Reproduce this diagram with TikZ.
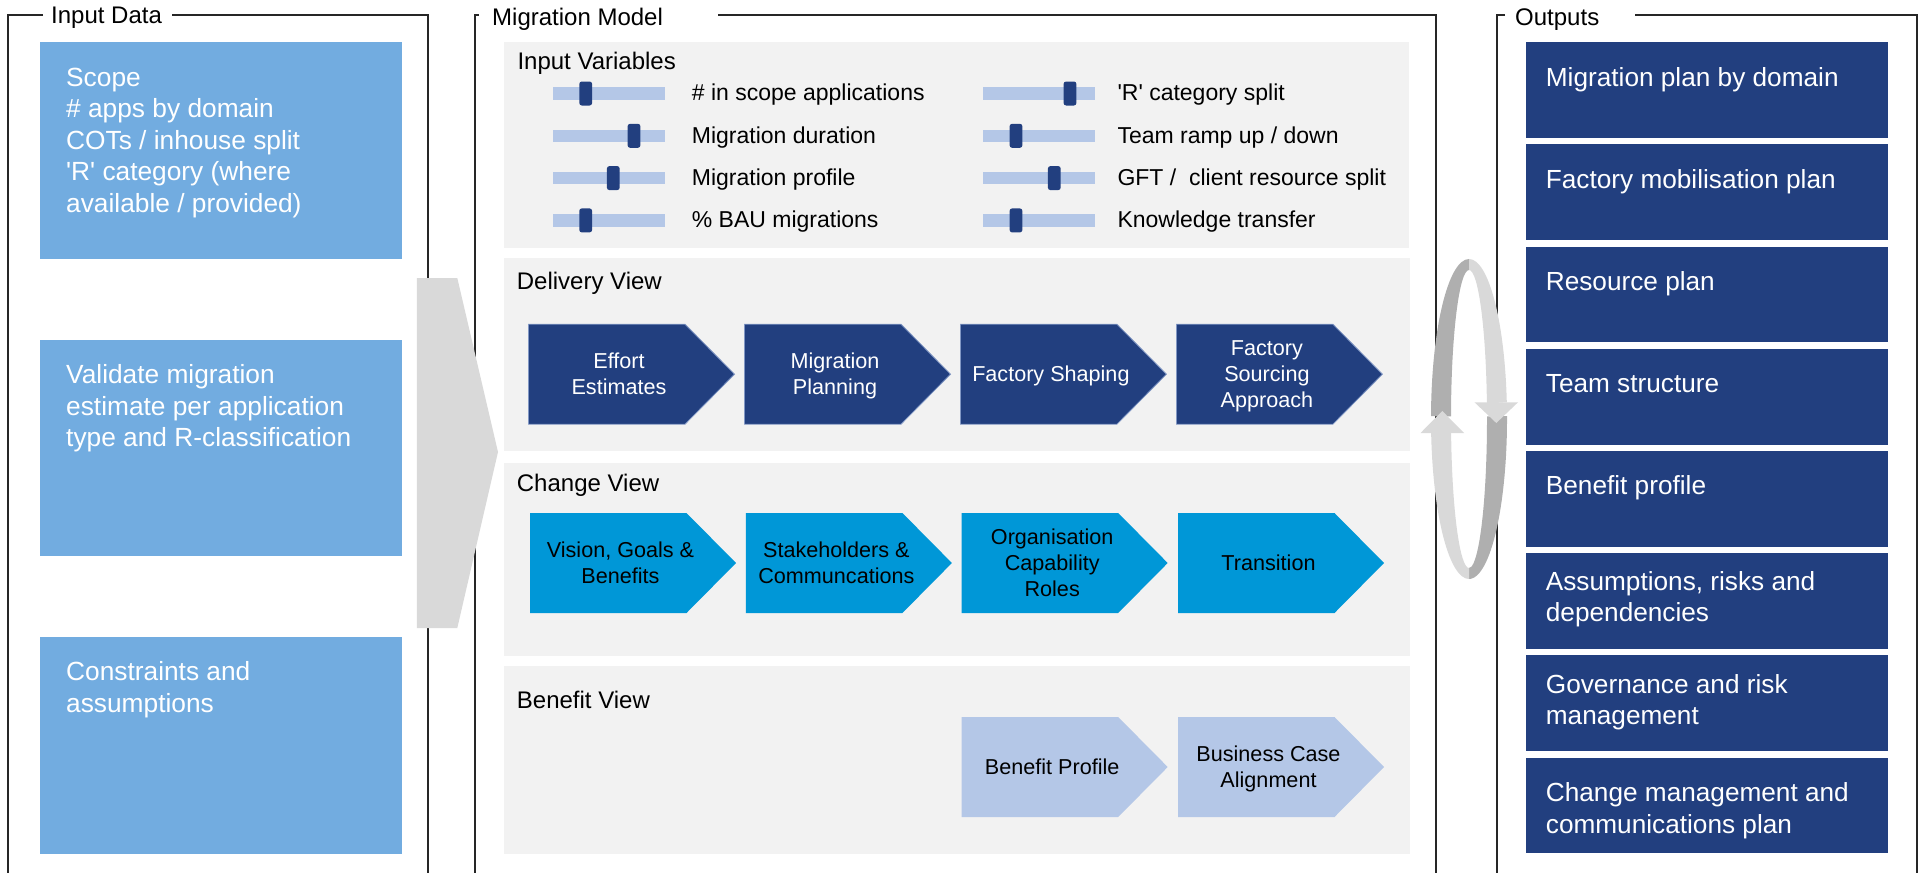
\documentclass[tikz,border=0pt]{standalone}
\usepackage{fontspec}
\setmainfont{Liberation Sans}

\definecolor{inblue}{HTML}{72ACE0}
\definecolor{navy}{HTML}{223F7F}
\definecolor{navyedge}{HTML}{8197C4}
\definecolor{cyanbox}{HTML}{0097D7}
\definecolor{paleblue}{HTML}{B4C7E7}
\definecolor{panelgray}{HTML}{F2F2F2}
\definecolor{arrowgray}{HTML}{D9D9D9}
\definecolor{ringdark}{HTML}{AFAFAF}
\definecolor{framecol}{HTML}{262626}

% chevron outline: left x, top y, fill/draw options
\newcommand\chevshape[3]{%
  \path[#3] (#1,#2) -- ++(156.5,0) -- ++(49.5,50) -- ++(-49.5,50) -- ++(-156.5,0) -- cycle;}

% slider: track left x, row centre y, knob centre x
\newcommand\slidebar[3]{%
  \fill[paleblue] (#1,{#2-6.3}) rectangle ++(111.7,12.6);
  \fill[navy, rounded corners=2.5pt] ({#3-6.4},{#2-12}) rectangle ++(12.8,24);}

\begin{document}
\begin{tikzpicture}[x=1pt,y=-1pt,
  frame/.style={draw=framecol, line width=1.8pt},
  lbl/.style={anchor=base west, inner sep=0, font=\fontsize{24}{28}\selectfont},
  bodytext/.style={anchor=base west, inner sep=0, text=white, font=\fontsize{26.3}{31.6}\selectfont},
  chevtext/.style={anchor=base, inner sep=0, font=\fontsize{21.6}{26}\selectfont},
  sltext/.style={anchor=base west, inner sep=0, font=\fontsize{23}{27}\selectfont},
  inbox/.style={fill=inblue, anchor=north west, inner sep=0, minimum width=361.5pt},
  outbox/.style={fill=navy, anchor=north west, inner sep=0, minimum width=362pt, minimum height=95.8pt},
  panel/.style={fill=panelgray, anchor=north west, inner sep=0, minimum width=905.5pt},
  navychev/.style={fill=navy, draw=navyedge, line width=0.8pt},
  cyanchev/.style={fill=cyanbox},
  palechev/.style={fill=paleblue},
]
\useasboundingbox (0,0) rectangle (1923,873);

% ---------- section frames ----------
\draw[frame] (43,14.7) -- (8,14.7) -- (8,873);
\draw[frame] (172,14.7) -- (428,14.7) -- (428,873);
\node[lbl] (lblin) at (51,23.2) {Input Data};

\draw[frame] (479,14.7) -- (474.6,14.7) -- (474.6,873);
\draw[frame] (718,14.7) -- (1436,14.7) -- (1436,873);
\node[lbl] (lblmodel) at (492,25.5) {Migration Model};

\draw[frame] (1505,14.7) -- (1497.3,14.7) -- (1497.3,873);
\draw[frame] (1635,14.7) -- (1917,14.7) -- (1917,873);
\node[lbl] (lblout) at (1515,25) {Outputs};

% ---------- input data ----------
\node[inbox, minimum height=217pt] (in1) at (40,42) {};
\node[inbox, minimum height=216pt] (in2) at (40,339.7) {};
\node[inbox, minimum height=217pt] (in3) at (40,637) {};
\node[bodytext] (in1t) at (66,86) {\parbox[t]{330pt}{\raggedright Scope\\\# apps by domain\\COTs / inhouse split\\\textquotesingle R\textquotesingle\ category (where\\available / provided)}};
\node[bodytext] (in2t) at (66,383.7) {\parbox[t]{330pt}{\raggedright Validate migration\\estimate per application\\type and R-classification}};
\node[bodytext] (in3t) at (66,680.5) {\parbox[t]{330pt}{\raggedright Constraints and\\assumptions}};

% large grey flow arrow into the model
\fill[arrowgray] (416.8,278) -- (457.3,278) -- (498,452) -- (457.3,628) -- (416.8,628) -- cycle;

% ---------- migration model panels ----------
\node[panel, minimum height=205.6pt] (pvars) at (503.5,41.7) {};
\node[panel, minimum height=193pt] (pdel) at (504,258) {};
\node[panel, minimum height=193.4pt] (pchg) at (504,462.3) {};
\node[panel, minimum height=187.7pt] (pben) at (504,666) {};

\node[lbl] (tvars) at (517.3,69) {Input Variables};
\node[lbl] (tdel) at (516.7,289.3) {Delivery View};
\node[lbl] (tchg) at (516.7,491.7) {Change View};
\node[lbl] (tben) at (516.7,708.3) {Benefit View};

% input variable sliders
\slidebar{553}{93.5}{585.7}
\slidebar{553}{135.8}{634}
\slidebar{553}{178.1}{613.3}
\slidebar{553}{220.4}{585.7}
\slidebar{983}{93.5}{1070}
\slidebar{983}{135.8}{1016}
\slidebar{983}{178.1}{1054.3}
\slidebar{983}{220.4}{1016}
\node[sltext] (v1) at (691.7,100.8) {\# in scope applications};
\node[sltext] (v2) at (691.7,143.1) {Migration duration};
\node[sltext] (v3) at (691.7,185.4) {Migration profile};
\node[sltext] (v4) at (691.7,227.7) {\% BAU migrations};
\node[sltext] (v5) at (1117.3,100.8) {\textquotesingle R\textquotesingle\ category split};
\node[sltext] (v6) at (1117.3,143.1) {Team ramp up / down};
\node[sltext] (v7) at (1117.3,185.4) {GFT /\ \ client resource split};
\node[sltext] (v8) at (1117.3,227.7) {Knowledge transfer};

% delivery view
\chevshape{528.5}{324.2}{navychev}
\chevshape{744.5}{324.2}{navychev}
\chevshape{960.4}{324.2}{navychev}
\chevshape{1176.4}{324.2}{navychev}
\node[chevtext, text=white] (d1) at (619,368.9) {\parbox[t]{170pt}{\centering Effort\\Estimates}};
\node[chevtext, text=white] (d2) at (835,368.9) {\parbox[t]{170pt}{\centering Migration\\Planning}};
\node[chevtext, text=white] (d3) at (1050.9,381.9) {\parbox[t]{170pt}{\centering Factory Shaping}};
\node[chevtext, text=white] (d4) at (1266.9,355.9) {\parbox[t]{170pt}{\centering Factory\\Sourcing\\Approach}};

% change view
\chevshape{530}{513}{cyanchev}
\chevshape{745.9}{513}{cyanchev}
\chevshape{961.7}{513}{cyanchev}
\chevshape{1178}{513}{cyanchev}
\node[chevtext] (c1) at (620.5,557.4) {\parbox[t]{170pt}{\centering Vision, Goals \&\\Benefits}};
\node[chevtext] (c2) at (836.4,557.4) {\parbox[t]{170pt}{\centering Stakeholders \&\\Communcations}};
\node[chevtext] (c3) at (1052.2,544.6) {\parbox[t]{170pt}{\centering Organisation\\Capability\\Roles}};
\node[chevtext] (c4) at (1268.5,570.6) {\parbox[t]{170pt}{\centering Transition}};

% benefit view
\chevshape{961.7}{717}{palechev}
\chevshape{1178}{717}{palechev}
\node[chevtext] (b1) at (1052.2,774.7) {\parbox[t]{170pt}{\centering Benefit Profile}};
\node[chevtext] (b2) at (1268.5,761.7) {\parbox[t]{170pt}{\centering Business Case\\Alignment}};

% ---------- iteration loop between model and outputs ----------
\fill[ringdark] (1431.0,416.2) arc[start angle=181, end angle=270, x radius=38, y radius=160]
  -- (1469,270) arc[start angle=270, end angle=181, x radius=18, y radius=149] -- cycle;
\fill[ringdark] (1507.0,416.2) arc[start angle=-1, end angle=90, x radius=38, y radius=160]
  -- (1469,568) arc[start angle=90, end angle=-1, x radius=18, y radius=149] -- cycle;
\fill[arrowgray] (1469,259) arc[start angle=270, end angle=354, x radius=38, y radius=160]
  -- (1486.9,403.4) arc[start angle=354, end angle=270, x radius=18, y radius=149] -- cycle;
\fill[arrowgray] (1469,579) arc[start angle=90, end angle=175, x radius=38, y radius=160]
  -- (1451.1,432.0) arc[start angle=175, end angle=90, x radius=18, y radius=149] -- cycle;
\fill[arrowgray] (1420.5,433) -- (1442.3,411) -- (1464,433) -- cycle;
\fill[arrowgray] (1474.5,402.3) -- (1496.3,423) -- (1518,402.3) -- cycle;

% ---------- outputs ----------
\node[outbox] (o1) at (1526,42) {};
\node[outbox] (o2) at (1526,144.2) {};
\node[outbox] (o3) at (1526,246.4) {};
\node[outbox] (o4) at (1526,348.6) {};
\node[outbox] (o5) at (1526,450.8) {};
\node[outbox] (o6) at (1526,553) {};
\node[outbox] (o7) at (1526,655.2) {};
\node[outbox] (o8) at (1526,757.4) {};
\begin{scope}[bodytext/.append style={font=\fontsize{26.2}{31.3}\selectfont}]
\node[bodytext] (o1t) at (1545.7,86) {Migration plan by domain};
\node[bodytext] (o2t) at (1545.7,188.2) {Factory mobilisation plan};
\node[bodytext] (o3t) at (1545.7,290.6) {Resource plan};
\node[bodytext] (o4t) at (1545.7,392.7) {Team structure};
\node[bodytext] (o5t) at (1545.7,494.9) {Benefit profile};
\node[bodytext] (o6t) at (1545.7,590.6) {\parbox[t]{350pt}{\raggedright Assumptions, risks and\\dependencies}};
\node[bodytext] (o7t) at (1545.7,693.2) {\parbox[t]{350pt}{\raggedright Governance and risk\\management}};
\node[bodytext] (o8t) at (1545.7,801.7) {\parbox[t]{350pt}{\raggedright Change management and\\communications plan}};
\end{scope}
\end{tikzpicture}
\end{document}
